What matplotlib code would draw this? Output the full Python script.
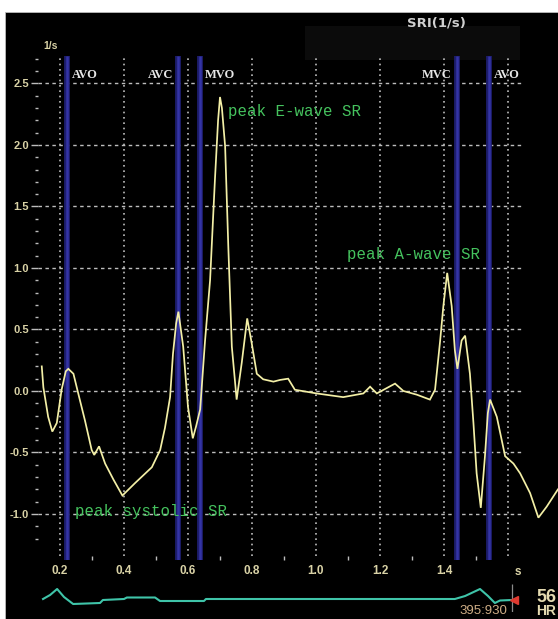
import numpy as np
import matplotlib
matplotlib.use("Agg")
import matplotlib.pyplot as plt
from matplotlib.patches import Rectangle
from matplotlib.transforms import offset_copy

# Strain-rate imaging trace: time (s) and strain rate (1/s)
time_s = [0.143, 0.148, 0.163, 0.176, 0.190, 0.205, 0.218, 0.226, 0.242, 0.257,
          0.278, 0.299, 0.307, 0.322, 0.341, 0.367, 0.395, 0.434, 0.487, 0.513,
          0.528, 0.544, 0.553, 0.563, 0.570, 0.585, 0.600, 0.615, 0.625, 0.638,
          0.653, 0.669, 0.684, 0.694, 0.700, 0.706, 0.716, 0.726, 0.737, 0.752,
          0.768, 0.785, 0.799, 0.815, 0.835, 0.867, 0.888, 0.913, 0.934, 1.002,
          1.085, 1.148, 1.169, 1.190, 1.247, 1.273, 1.315, 1.356, 1.372, 1.388,
          1.398, 1.410, 1.424, 1.434, 1.442, 1.455, 1.466, 1.481, 1.492, 1.502,
          1.515, 1.528, 1.537, 1.544, 1.565, 1.591, 1.617, 1.638, 1.669, 1.695,
          1.721, 1.756]
strain_rate = [0.20, 0.03, -0.21, -0.33, -0.26, 0.01, 0.16, 0.18, 0.14, -0.02,
               -0.24, -0.48, -0.52, -0.45, -0.59, -0.72, -0.85, -0.75, -0.62, -0.48,
               -0.30, -0.05, 0.30, 0.55, 0.645, 0.36, -0.13, -0.385, -0.29, -0.15,
               0.40, 0.90, 1.71, 2.20, 2.39, 2.30, 1.99, 1.17, 0.36, -0.07,
               0.23, 0.59, 0.39, 0.14, 0.095, 0.076, 0.09, 0.10, 0.01, -0.02,
               -0.05, -0.02, 0.035, -0.02, 0.06, 0.0, -0.03, -0.07, 0.01, 0.41,
               0.69, 0.96, 0.69, 0.33, 0.18, 0.41, 0.45, 0.14, -0.26, -0.67,
               -0.95, -0.53, -0.18, -0.07, -0.21, -0.53, -0.59, -0.67, -0.83, -1.03,
               -0.94, -0.80]

# ECG strip under the trace (arbitrary amplitude)
ecg_time = [0.147, 0.169, 0.191, 0.2125, 0.241, 0.325, 0.334, 0.400, 0.409, 0.497,
            0.5125, 0.650, 0.656, 1.434, 1.466, 1.5125, 1.5375, 1.559, 1.575, 1.6125]
ecg_amp = [0.1, 0.5, 1.1, 0.3, -0.4, -0.3, 0.0, 0.1, 0.25, 0.25,
           -0.1, -0.1, 0.1, 0.1, 0.4, 1.1, 0.4, -0.3, -0.05, 0.0]

# Valve events
event_names = ["AVO", "AVC", "MVO", "MVC", "AVO"]
event_times = [0.223, 0.569, 0.6375, 1.440, 1.541]
event_side = ["right", "left", "right", "left", "right"]

# Peak annotations
peak_labels = ["peak E-wave SR", "peak A-wave SR", "peak systolic SR"]
peak_x = [0.725, 1.097, 0.247]
peak_y = [2.27, 1.106, -0.98]

x_ticks = [0.2, 0.4, 0.6, 0.8, 1.0, 1.2, 1.4]
x_grid = [0.2, 0.4, 0.6, 0.8, 1.0, 1.2, 1.4, 1.6]
y_ticks = [-1.0, -0.5, 0.0, 0.5, 1.0, 1.5, 2.0, 2.5]

W, H = 558, 619
fig = plt.figure(figsize=(W / 100, H / 100), dpi=100, facecolor="white")

# black display area
fig.patches.append(Rectangle((5 / W, 0), (W - 5) / W, (H - 12) / H,
                             transform=fig.transFigure, facecolor="black",
                             edgecolor="#bbbbbb", linewidth=0.6, zorder=-10))
# faint overlay box near the header
fig.patches.append(Rectangle((305 / W, 1 - 60 / H), 215 / W, 34 / H,
                             transform=fig.transFigure, facecolor="#0b0b0b",
                             edgecolor="none", zorder=-9))

tick_col = "#d9d2a6"
grid_col = "#bdbdbd"

ax = fig.add_axes([38 / W, 1 - 560 / H, 520 / W, 510 / H])
ax.set_facecolor("none")
ax.set_xlim(0.13125, 1.75625)
ax.set_ylim(-1.374, 2.772)
for s in ax.spines.values():
    s.set_visible(False)

# grid
ax.hlines(y_ticks, 0.13125, 1.647, colors=grid_col, linewidth=1.0,
          linestyles=(0, (2.5, 2.5)), zorder=1)
ax.vlines(x_grid, -1.34, 2.72, colors=grid_col, linewidth=1.2,
          linestyles=(0, (1.0, 2.2)), zorder=1)

# valve event bands
ax.vlines(event_times, -1.374, 2.72, colors="#1d1d6c", linewidth=4.2, zorder=2)
ax.vlines(event_times, -1.374, 2.72, colors="#3434a6", linewidth=1.8, zorder=2)
for name, t, side in zip(event_names, event_times, event_side):
    dx = 5 if side == "right" else -5
    tr = offset_copy(ax.transData, fig=fig, x=dx, y=0, units="dots")
    ax.text(t, 2.565, name, transform=tr, ha="left" if side == "right" else "right",
            va="center", color="#e6e6e6", fontsize=9, fontweight="bold",
            family="Liberation Serif", zorder=4)

# strain-rate trace
ax.plot(time_s, strain_rate, color="#f3efa6", linewidth=1.25, zorder=3,
        solid_joinstyle="miter")

# peak annotations
for lab, x, y in zip(peak_labels, peak_x, peak_y):
    ax.text(x, y, lab, ha="left", va="center", color="#45c35e", fontsize=11.3,
            family="Liberation Mono", zorder=4)

# axes ticks
ax.set_yticks(y_ticks)
ax.set_yticklabels([f"{v:.1f}" for v in y_ticks])
ax.set_yticks(np.round(np.arange(-1.2, 2.75, 0.1), 1), minor=True)
ax.tick_params(axis="y", which="major", length=5, width=1.0, color=grid_col,
               pad=1.5, labelcolor=tick_col, labelsize=8)
ax.tick_params(axis="y", which="minor", length=2.5, width=1.0, color=grid_col)
ax.set_xticks(x_ticks)
ax.set_xticklabels([f"{v:.1f}" for v in x_ticks])
ax.set_xticks([0.3, 0.5, 0.7, 0.9, 1.1, 1.3, 1.5], minor=True)
ax.tick_params(axis="x", which="major", length=0, pad=3.5,
               labelcolor=tick_col, labelsize=8.5)
ax.tick_params(axis="x", which="minor", direction="in", length=3, width=1.0,
               color=grid_col)
for lab in ax.get_xticklabels() + ax.get_yticklabels():
    lab.set_fontweight("bold")
    lab.set_family("Liberation Sans")

ax.text(1.63, -1.47, "s", ha="center", va="center", color=tick_col,
        fontsize=8.5, fontweight="bold", family="Liberation Sans", clip_on=False)
fig.text(51 / W, 1 - 46 / H, "1/s", ha="center", va="center", color=tick_col,
         fontsize=7.5, fontweight="bold", family="Liberation Sans")
fig.text(436 / W, 1 - 23 / H, "SRI(1/s)", ha="center", va="center",
         color="#cfcfcf", fontsize=9.5, fontweight="bold", family="DejaVu Sans")

# ECG strip
ax_ecg = fig.add_axes([38 / W, 1 - 612 / H, 520 / W, 32 / H])
ax_ecg.set_facecolor("none")
ax_ecg.set_xlim(0.13125, 1.75625)
ax_ecg.set_ylim(-1.2, 2.0)
ax_ecg.axis("off")
ax_ecg.plot(ecg_time, ecg_amp, color="#3fc4a9", linewidth=1.5)
ax_ecg.vlines(1.6125, -1.2, 1.6, colors="#8a8a8a", linewidth=0.9)
ax_ecg.plot([1.6185], [0.0], marker="<", markersize=6, color="#e03a30",
            linestyle="none")

fig.text(546 / W, 1 - 597 / H, "56", ha="center", va="center", color="#e4dab0",
         fontsize=13, fontweight="bold", family="Liberation Sans")
fig.text(546 / W, 1 - 611 / H, "HR", ha="center", va="center", color="#e4dab0",
         fontsize=10, fontweight="bold", family="Liberation Sans")
fig.text(483 / W, 1 - 611 / H, "395:930", ha="center", va="center",
         color="#cfae86", fontsize=9.5, family="Liberation Sans")

fig.savefig("out.png", dpi=100, facecolor="white")
